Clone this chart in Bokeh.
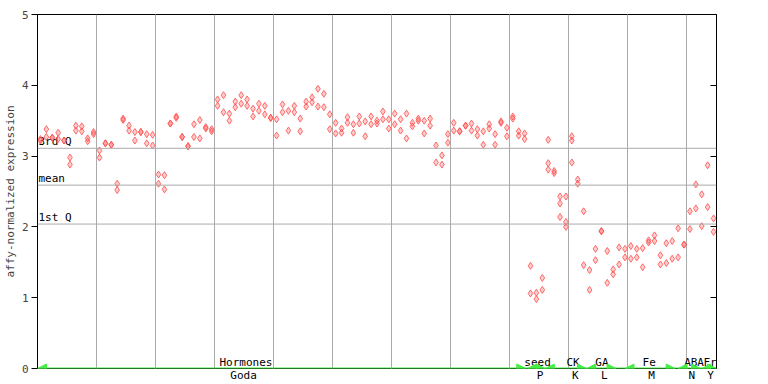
import numpy as np
from bokeh.plotting import figure
from bokeh.models import (ColumnDataSource, LinearAxis, FixedTicker, Grid, Span,
                          Arrow, NormalHead)
from bokeh.core.properties import value
from bokeh.embed import file_html
from bokeh.resources import INLINE

# replicate values per sample (index 0..114)
rep_a = [3.24, 3.38, 3.26, 3.33, 3.22, 2.98, 3.43, 3.42, 3.25, 3.34,
         3.08, 3.18, 3.16, 2.61, 3.53, 3.43, 3.34, 3.34, 3.31, 3.30,
         2.74, 2.73, 3.46, 3.56, 3.27, 3.14, 3.45, 3.51, 3.41, 3.38,
         3.80, 3.86, 3.60, 3.77, 3.86, 3.80, 3.67, 3.74, 3.71, 3.54,
         3.52, 3.73, 3.64, 3.71, 3.53, 3.77, 3.83, 3.95, 3.88, 3.59,
         3.47, 3.39, 3.55, 3.45, 3.56, 3.49, 3.56, 3.50, 3.63, 3.52,
         3.60, 3.52, 3.60, 3.47, 3.53, 3.50, 3.53, 3.15, 3.01, 3.31,
         3.47, 3.35, 3.43, 3.46, 3.38, 3.35, 3.45, 3.31, 3.49, 3.40,
         3.56, 3.35, 3.32, 1.45, 1.07, 1.28, 3.23, 2.79, 2.43, 2.43,
         3.28, 2.67, 2.22, 1.39, 1.69, 1.94, 1.66, 1.40, 1.71, 1.69,
         1.73, 1.69, 1.70, 1.81, 1.88, 1.60, 1.77, 1.80, 1.98, 1.75,
         2.22, 2.60, 2.46, 2.87, 2.12]
rep_b = [3.22, 3.27, 3.26, 3.24, 3.22, 2.88, 3.36, 3.35, 3.21, 3.31,
         2.98, 3.18, 3.16, 2.52, 3.51, 3.36, 3.22, 3.34, 3.18, 3.15,
         2.61, 2.53, 3.46, 3.54, 3.27, 3.14, 3.27, 3.25, 3.39, 3.35,
         3.71, 3.62, 3.50, 3.69, 3.74, 3.71, 3.56, 3.64, 3.59, 3.54,
         3.29, 3.62, 3.36, 3.62, 3.35, 3.70, 3.76, 3.70, 3.69, 3.38,
         3.32, 3.33, 3.47, 3.33, 3.46, 3.28, 3.45, 3.46, 3.52, 3.39,
         3.45, 3.36, 3.25, 3.42, 3.50, 3.32, 3.43, 2.91, 2.88, 3.19,
         3.36, 3.35, 3.43, 3.36, 3.29, 3.16, 3.39, 3.16, 3.47, 3.28,
         3.53, 3.29, 3.24, 1.06, 0.98, 1.11, 2.90, 2.76, 2.33, 2.07,
         3.22, 2.61, 1.46, 1.11, 1.53, 1.94, 1.21, 1.33, 1.47, 1.57,
         1.55, 1.57, 1.43, 1.78, 1.80, 1.47, 1.49, 1.55, 1.57, 1.75,
         1.97, 2.26, 2.01, 2.28, 1.93]
# third replicate, only where present
rep_c_index = [86, 88, 89, 90]
rep_c = [2.81, 2.14, 2.00, 2.91]

# quartile / mean reference lines
stat_names = ["3rd Q", "mean", "1st Q"]
stat_values = [3.11, 2.59, 2.04]

# experiment categories along the bottom
cat_names = ["Hormones", "seed", "CK", "GA", "Fe", "ABA", "Fr"]
cat_start = [0, 83, 86, 93, 99.5, 108.5, 112.5]
cat_end = [82.7, 86, 93, 98, 108, 112.3, 115]
cat_label_x = [35.3, 84.7, 90.7, 95.6, 103.6, 111.2, 113.9]
sub_names = ["Goda", "P", "K", "L", "M", "N", "Y"]
sub_label_x = [34.9, 85.1, 91.1, 96.0, 104.0, 110.8, 114.0]

n = len(rep_a)
xs = np.arange(n) + 0.5

FONT = "DejaVu Sans Mono"
RED = "#ff5555"
GRAY = "#aaaaaa"
GREEN = "#44ee44"

p = figure(width=768, height=384, x_range=(0, n), y_range=(0, 5),
           output_backend="svg", toolbar_location=None,
           x_axis_location=None, y_axis_location="left",
           min_border_left=37, min_border_right=52,
           min_border_top=14, min_border_bottom=15)
p.outline_line_color = "black"
p.outline_line_width = 1
p.background_fill_color = "white"
p.border_fill_color = "white"
p.ygrid.visible = False

# vertical grid every 10 samples
p.add_layout(Grid(dimension=0, ticker=FixedTicker(ticks=list(range(10, n, 10))),
                  grid_line_color=GRAY, grid_line_width=1))

ax = p.yaxis[0]
ax.ticker = FixedTicker(ticks=[0, 1, 2, 3, 4, 5])
ax.axis_label = "affy-normalized expression"
ax.axis_label_text_font = FONT
ax.axis_label_text_font_size = "11px"
ax.axis_label_text_font_style = "normal"
ax.axis_label_standoff = 2
ax.major_label_text_font = FONT
ax.major_label_text_font_size = "11px"
ax.major_label_standoff = 3
ax.major_tick_out = 6
ax.major_tick_in = 0
ax.minor_tick_out = 0
ax.minor_tick_in = 0
ax.axis_line_color = "black"

rax = LinearAxis(ticker=FixedTicker(ticks=[0, 1, 2, 3, 4, 5]),
                 major_tick_in=6, major_tick_out=0, minor_tick_in=0, minor_tick_out=0,
                 major_label_text_color=None, major_label_text_font_size="8px",
                 axis_line_color="black")
p.add_layout(rax, "right")

# lower category labels as a bottom axis
bax = LinearAxis(ticker=FixedTicker(ticks=sub_label_x),
                 major_label_overrides={xv: nm for xv, nm in zip(sub_label_x, sub_names)},
                 major_tick_in=0, major_tick_out=0, minor_tick_in=0, minor_tick_out=0,
                 axis_line_color=None, major_label_standoff=0,
                 major_label_text_font=FONT, major_label_text_font_size="11px",
                 major_label_text_color="black")
p.add_layout(bax, "below")

for v in stat_values:
    p.add_layout(Span(location=v, dimension="width", line_color=GRAY, line_width=1))
p.text(x=[0.15] * 3, y=stat_values, text=stat_names, text_font=value(FONT),
       text_font_size="11px", text_baseline="bottom", text_align="left",
       text_color="black")

src = ColumnDataSource(dict(x=np.concatenate([xs, xs, np.array(rep_c_index) + 0.5]),
                            y=np.concatenate([rep_a, rep_b, rep_c])))
p.scatter("x", "y", source=src, marker="diamond", size=7,
          line_color=RED, fill_color=RED, fill_alpha=0.3, line_width=1, line_alpha=0.85)

# green category band along the bottom
p.segment(x0=[0], y0=[0], x1=[n], y1=[0], line_color=GREEN, line_width=2)
for s, e in zip(cat_start, cat_end):
    p.add_layout(Arrow(x_start=s, y_start=0, x_end=e, y_end=0,
                       line_color=GREEN, line_width=2, line_alpha=0,
                       start=NormalHead(size=9, fill_color=GREEN, line_color=GREEN),
                       end=NormalHead(size=9, fill_color=GREEN, line_color=GREEN)))

p.text(x=cat_label_x, y=[0] * len(cat_names), text=cat_names, text_font=value(FONT),
       text_font_size="11px", text_baseline="bottom", text_align="center",
       text_color="black")

open("out.html", "w").write(file_html(p, INLINE))
